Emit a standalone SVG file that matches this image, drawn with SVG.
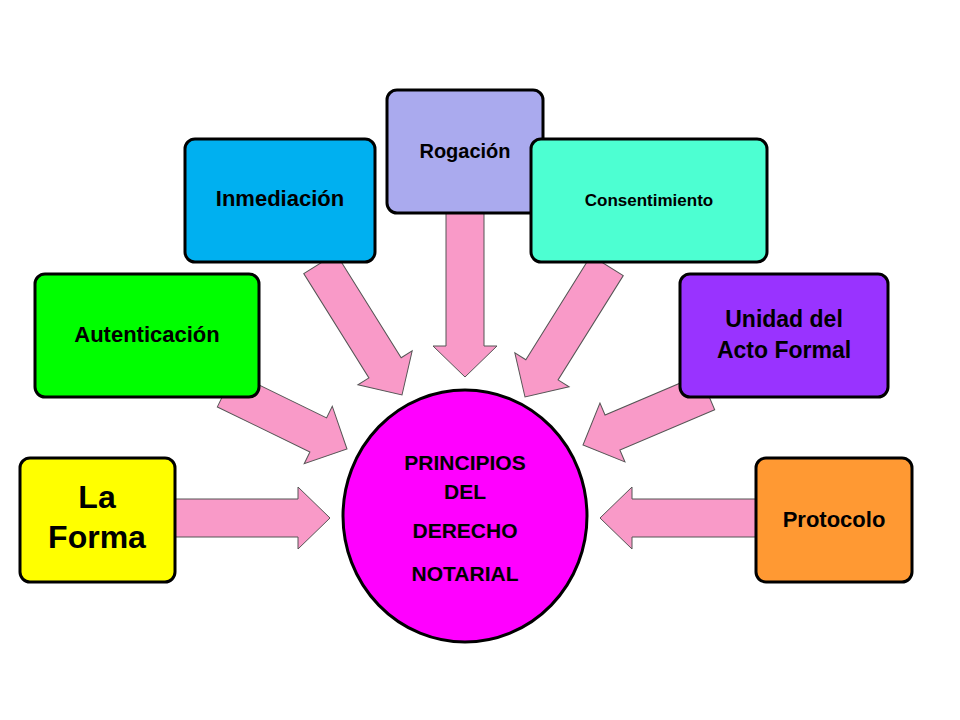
<svg xmlns="http://www.w3.org/2000/svg" width="960" height="720" viewBox="0 0 960 720">
<defs>
<style>
.b{stroke:#000;stroke-width:3}
.t{font-family:"Liberation Sans",Arial,sans-serif;font-weight:bold;fill:#000;text-anchor:middle}
.a{fill:#f99ac8;stroke:#555;stroke-width:1}
</style>
<polygon id="arr" points="0,-19 -32,-19 -32,-32 0,0 -32,32 -32,19 0,19" />
</defs>
<rect width="960" height="720" fill="#fff"/>
<g id="connectors">
<polygon class="a" points="175,499 298,499 298,487 330,518 298,549 298,537 175,537"/>
<g transform="translate(347,449) rotate(26)"><polygon class="a" points="-135,-19 -32,-19 -32,-32 0,0 -32,32 -32,19 -135,19"/></g>
<g transform="translate(402,395) rotate(58)"><polygon class="a" points="-155,-19 -32,-19 -32,-32 0,0 -32,32 -32,19 -155,19"/></g>
<polygon class="a" points="446,213 446,346 433,346 465,377 497,346 484,346 484,213"/>
<g transform="translate(525,397) rotate(122)"><polygon class="a" points="-155,-19 -32,-19 -32,-32 0,0 -32,32 -32,19 -155,19"/></g>
<g transform="translate(583,445) rotate(157)"><polygon class="a" points="-135,-19 -32,-19 -32,-32 0,0 -32,32 -32,19 -135,19"/></g>
<polygon class="a" points="757,499 632,499 632,487 600,518 632,549 632,537 757,537"/>
</g>
<g id="center">
<ellipse class="b" cx="465" cy="516" rx="122" ry="126" fill="#ff00ff"/>
<text class="t" x="465" y="470" font-size="21">PRINCIPIOS</text>
<text class="t" x="465" y="499" font-size="21">DEL</text>
<text class="t" x="465" y="538" font-size="21">DERECHO</text>
<text class="t" x="465" y="581" font-size="21">NOTARIAL</text>
</g>
<g id="laforma"><rect class="b" x="20" y="458" width="155" height="124" rx="10" fill="#ffff00"/>
<text class="t" x="97" y="508" font-size="32">La</text><text class="t" x="97" y="548" font-size="32">Forma</text></g>
<g id="autenticacion"><rect class="b" x="35" y="274" width="224" height="123" rx="10" fill="#00ff00"/>
<text class="t" x="147" y="342" font-size="22">Autenticación</text></g>
<g id="inmediacion"><rect class="b" x="185" y="139" width="190" height="123" rx="10" fill="#00b0f0"/>
<text class="t" x="280" y="206" font-size="22">Inmediación</text></g>
<g id="rogacion"><rect class="b" x="387" y="90" width="156" height="123" rx="10" fill="#aaaaee"/>
<text class="t" x="465" y="158" font-size="20">Rogación</text></g>
<g id="consentimiento"><rect class="b" x="531" y="139" width="236" height="123" rx="10" fill="#4dffd2"/>
<text class="t" x="649" y="206" font-size="17">Consentimiento</text></g>
<g id="unidad"><rect class="b" x="680" y="274" width="208" height="123" rx="10" fill="#9933ff"/>
<text class="t" x="784" y="327" font-size="23">Unidad del</text><text class="t" x="784" y="358" font-size="23">Acto Formal</text></g>
<g id="protocolo"><rect class="b" x="756" y="458" width="156" height="124" rx="10" fill="#ff9933"/>
<text class="t" x="834" y="527" font-size="22">Protocolo</text></g>
</svg>
